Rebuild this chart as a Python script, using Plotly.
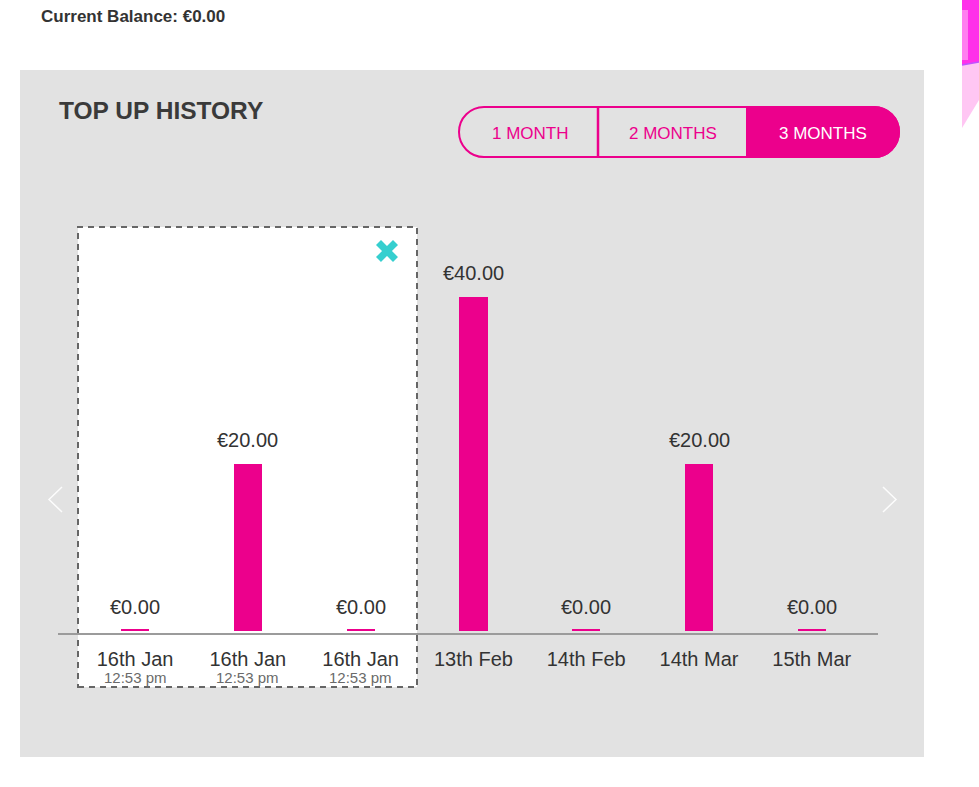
import plotly.graph_objects as go

# ---------------- data ----------------
categories = ["16th Jan", "16th Jan", "16th Jan", "13th Feb", "14th Feb", "14th Mar", "15th Mar"]
times = ["12:53 pm", "12:53 pm", "12:53 pm", "", "", "", ""]
amounts = [0, 20, 0, 40, 0, 20, 0]
value_labels = ["€%.2f" % v for v in amounts]
balance_text = "Current Balance: €0.00"
title_text = "TOP UP HISTORY"
buttons = ["1 MONTH", "2 MONTHS", "3 MONTHS"]

# ---------------- styling ----------------
W, H = 979, 787
PINK = "#EC008C"
PANEL = "#e2e2e2"
TEXT = "#333333"
FONT = "Liberation Sans, Arial, Helvetica, sans-serif"
STUB = 0.24  # minimal visible height for zero top-ups (decorative)


def px(x):
    return x / W


def py(y):
    return 1 - y / H


def path(points_cmds):
    out = []
    for cmd, pts in points_cmds:
        if cmd in ("M", "L"):
            for p in pts:
                out.append("%s%.5f,%.5f" % (cmd, px(p[0]), py(p[1])))
        else:
            coords = " ".join("%.5f,%.5f" % (px(x), py(y)) for x, y in pts)
            out.append(cmd + coords)
    return " ".join(out) + " Z"


xs = list(range(len(categories)))

fig = go.Figure()
# stub bars (thin line at base of every category)
fig.add_trace(go.Bar(x=xs, y=[STUB] * len(xs), width=0.25, marker=dict(color=PINK, line=dict(width=0)),
                     hoverinfo="skip", showlegend=False))
# main bars
fig.add_trace(go.Bar(x=xs, y=amounts, width=0.25, marker=dict(color=PINK, line=dict(width=0)),
                     showlegend=False))

shapes = []
# gray panel
shapes.append(dict(type="rect", xref="paper", yref="paper", x0=px(20), x1=px(924), y0=py(757), y1=py(70),
                   fillcolor=PANEL, line=dict(width=0), layer="below"))
# selected (dashed) white box
shapes.append(dict(type="rect", xref="paper", yref="paper", x0=px(78), x1=px(417), y0=py(687), y1=py(227),
                   fillcolor="white", line=dict(color="#666666", width=2, dash="6px,5px"), layer="below"))
# pink decoration top right
shapes.append(dict(type="path", xref="paper", yref="paper",
                   path=path([("M", [(962, 0)]), ("L", [(979, 0), (979, 62), (962, 65)])]),
                   fillcolor="#ff30ea", line=dict(width=0), layer="below"))
shapes.append(dict(type="path", xref="paper", yref="paper",
                   path=path([("M", [(962, 65)]), ("L", [(979, 62), (979, 100), (962, 128)])]),
                   fillcolor="#ffc6f3", line=dict(width=0), layer="below"))
shapes.append(dict(type="rect", xref="paper", yref="paper", x0=px(962), x1=px(968), y0=py(60), y1=py(10),
                   fillcolor="#ff7ff0", line=dict(width=0), layer="below"))
shapes.append(dict(type="line", xref="paper", yref="paper", x0=px(962), x1=px(979), y0=py(65), y1=py(62),
                   line=dict(color="#c050ff", width=1.5), layer="below"))

# pill buttons
k = 0.5523 * 25
fill_path = path([("M", [(747, 107)]), ("L", [(874, 107)]),
                  ("C", [(874 + k, 107), (899, 132 - k), (899, 132)]),
                  ("C", [(899, 132 + k), (874 + k, 157), (874, 157)]),
                  ("L", [(747, 157)])])
shapes.append(dict(type="path", xref="paper", yref="paper", path=fill_path, fillcolor=PINK,
                   line=dict(color=PINK, width=2)))
outline = path([("M", [(484, 107)]), ("L", [(874, 107)]),
                ("C", [(874 + k, 107), (899, 132 - k), (899, 132)]),
                ("C", [(899, 132 + k), (874 + k, 157), (874, 157)]),
                ("L", [(484, 157)]),
                ("C", [(484 - k, 157), (459, 132 + k), (459, 132)]),
                ("C", [(459, 132 - k), (484 - k, 107), (484, 107)])])
shapes.append(dict(type="path", xref="paper", yref="paper", path=outline, fillcolor="rgba(0,0,0,0)",
                   line=dict(color=PINK, width=2)))
shapes.append(dict(type="line", xref="paper", yref="paper", x0=px(598), x1=px(598), y0=py(107), y1=py(157),
                   line=dict(color=PINK, width=2.5)))

# chevrons
shapes.append(dict(type="path", xref="paper", yref="paper",
                   path="M%.5f,%.5f L%.5f,%.5f L%.5f,%.5f" % (px(62), py(487), px(49), py(499.5), px(62), py(512)),
                   line=dict(color="rgba(255,255,255,0.9)", width=1.5)))
shapes.append(dict(type="path", xref="paper", yref="paper",
                   path="M%.5f,%.5f L%.5f,%.5f L%.5f,%.5f" % (px(883), py(487), px(896), py(499.5), px(883), py(512)),
                   line=dict(color="rgba(255,255,255,0.9)", width=1.5)))

# close icon (X)
shapes.append(dict(type="line", xref="paper", yref="paper", x0=px(378.5), x1=px(395.5), y0=py(242.5), y1=py(259.5),
                   line=dict(color="#36cfcf", width=7)))
shapes.append(dict(type="line", xref="paper", yref="paper", x0=px(378.5), x1=px(395.5), y0=py(259.5), y1=py(242.5),
                   line=dict(color="#36cfcf", width=7)))

annotations = []
annotations.append(dict(text="<b>" + balance_text + "</b>", xref="paper", yref="paper", x=px(39), y=py(17),
                        xanchor="left", yanchor="middle", showarrow=False,
                        font=dict(size=17, color=TEXT, family=FONT)))
annotations.append(dict(text="<b>" + title_text + "</b>", xref="paper", yref="paper", x=px(57), y=py(111),
                        xanchor="left", yanchor="middle", showarrow=False,
                        font=dict(size=24.5, color="#3a3a3a", family=FONT)))
for label, cx, col in zip(buttons, [530, 673, 823], [PINK, PINK, "white"]):
    annotations.append(dict(text=label, xref="paper", yref="paper", x=px(cx), y=py(133),
                            xanchor="center", yanchor="middle", showarrow=False,
                            font=dict(size=17, color=col, family=FONT)))
for x, v, lab in zip(xs, amounts, value_labels):
    annotations.append(dict(text=lab, x=x, y=v, xref="x", yref="y", xanchor="center", yanchor="bottom",
                            yshift=11, showarrow=False, font=dict(size=20, color=TEXT, family=FONT)))
for x, t in zip(xs, times):
    if t:
        annotations.append(dict(text=t, x=x, xref="x", y=py(677.5), yref="paper", xanchor="center",
                                yanchor="middle", showarrow=False,
                                font=dict(size=15, color="#6a6a6a", family=FONT)))

fig.update_layout(
    width=W, height=H,
    margin=dict(l=0, r=0, t=0, b=0, autoexpand=False),
    paper_bgcolor="white",
    plot_bgcolor="rgba(0,0,0,0)",
    barmode="overlay",
    bargap=0,
    showlegend=False,
    shapes=shapes,
    annotations=annotations,
    font=dict(family=FONT, color=TEXT),
    xaxis=dict(domain=[px(58), px(878)], range=[-0.683, 6.587], tickvals=xs, ticktext=categories,
               showline=True, linecolor="#9b9b9b", linewidth=2, showgrid=False, zeroline=False,
               ticks="outside", ticklen=7, tickcolor="rgba(0,0,0,0)",
               tickfont=dict(size=20, color=TEXT, family=FONT), fixedrange=True),
    yaxis=dict(domain=[py(633), py(250)], range=[-0.24, 45.63], visible=False, fixedrange=True),
)

fig.write_html("out.html")
